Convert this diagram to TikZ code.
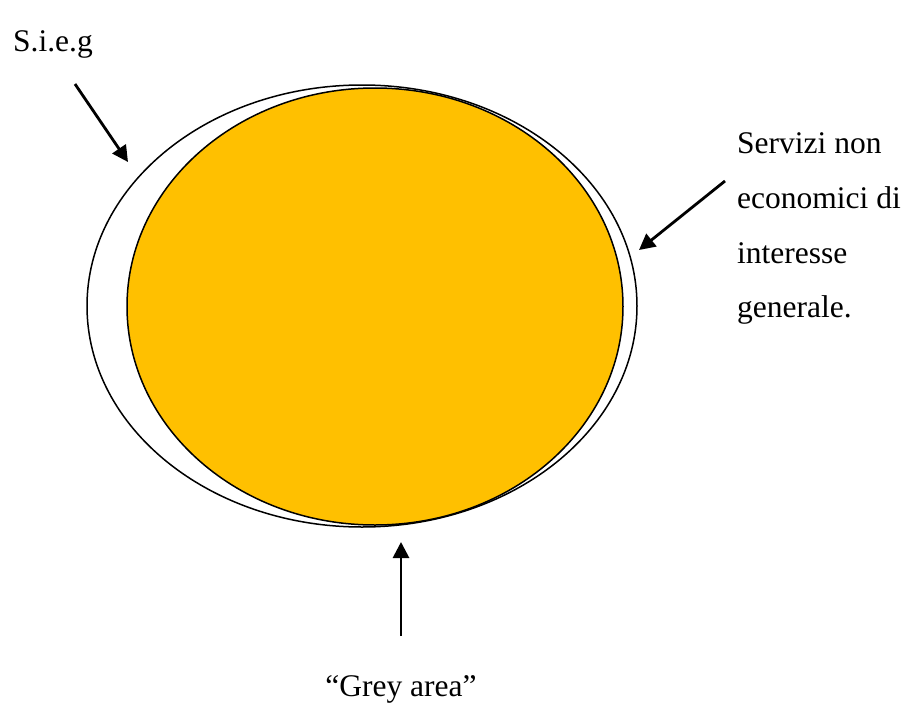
\documentclass[tikz,border=0pt]{standalone}
\usepackage{fontspec}
\setmainfont{Liberation Serif}
\usetikzlibrary{arrows.meta}
\definecolor{sunorange}{HTML}{FFC000}
\begin{document}
\begin{tikzpicture}[x=1pt,y=-1pt,
  ring/.style={draw=black,line width=1.5pt},
  pointer/.style={draw=black,line width=2.8pt,-{Triangle[length=16pt,width=16pt]}},
  lbl/.style={font=\fontsize{31.5}{37}\selectfont,inner sep=0pt,anchor=base west}]
\useasboundingbox (0,0) rectangle (908,704);
% outer and inner sets
\draw[ring,fill=white] (362,306) ellipse [x radius=275,y radius=221];
\draw[ring,fill=sunorange] (375,306.5) ellipse [x radius=248,y radius=218.5];
% labels
\node[lbl] (sieg) at (13,51) {S.i.e.g};
\node[lbl] (snl1) at (737,153) {Servizi non};
\node[lbl] (snl2) at (737,208) {economici di};
\node[lbl] (snl3) at (737,263) {interesse};
\node[lbl] (snl4) at (737,317) {generale.};
\node[lbl,anchor=base] (grey) at (401,696) {“Grey area”};
% pointers
\coordinate (a1s) at (75,84);
\coordinate (a1e) at (128,162);
\coordinate (a2s) at (725,181);
\coordinate (a2e) at (639,250);
\coordinate (a3s) at (401,636);
\coordinate (a3e) at (401,542);
\draw[pointer] (a1s) -- (a1e);
\draw[pointer] (a2s) -- (a2e);
\draw[pointer] (a3s) -- (a3e);
\end{tikzpicture}
\end{document}
